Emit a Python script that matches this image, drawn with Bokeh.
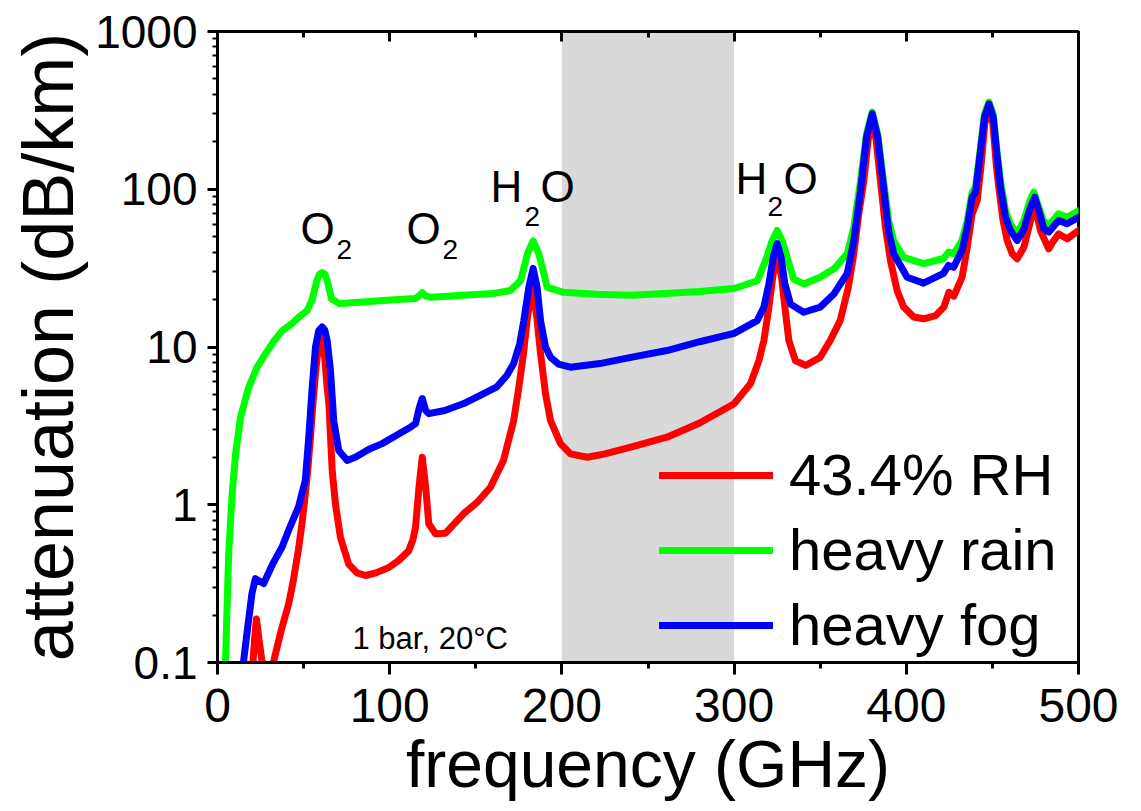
from bokeh.plotting import figure
from bokeh.models import (FixedTicker, LinearAxis, BoxAnnotation, Legend, LegendItem,
                          Range1d, CustomJSTickFormatter)
from bokeh.core.properties import value
from bokeh.embed import file_html
from bokeh.resources import INLINE

# ---------------- data ----------------
rh_f = [20, 21.5, 22.6, 24.5, 26.5, 29, 31.5, 33.7, 37, 41.4, 44, 47, 49, 51, 52.5, 54, 55.5, 57, 58.5,
        59.8, 60.5, 61.3, 62.3, 63.5, 64.7, 66.6, 68.5, 71.4, 76.2, 81, 86, 92, 99.5, 105.3, 111, 113.5,
        115, 117, 118.9, 120.9, 122.7, 126.6, 132.4, 143, 151, 158.5, 166, 172, 175, 177.7, 180, 183,
        185.4, 187.6, 190.5, 193.4, 199.2, 205, 214.7, 225, 240, 261, 280, 300, 309.5, 314.4, 317.3,
        320.2, 322.7, 325, 327.3, 329.5, 331.8, 335.6, 341.5, 350, 355.8, 361.6, 366.4, 369.5, 372.4,
        375.3, 377.8, 380.2, 382.5, 385, 387.9, 390.8, 394.7, 398.5, 404.3, 410.2, 417, 421.8, 424.7,
        427.6, 432.4, 435.4, 438.2, 441.2, 443.5, 445.6, 448, 450.3, 452.2, 453.7, 456.2, 458.6, 461.5,
        464.4, 468.3, 472.2, 475, 477.9, 482.7, 485.6, 488.5, 493.4, 500]
rh_a = [0.08, 0.14, 0.189, 0.13, 0.09, 0.075, 0.09, 0.114, 0.16, 0.237, 0.33, 0.52, 0.75, 1.17, 1.7,
        2.7, 4.5, 7.0, 9.8, 11.8, 12.2, 11.3, 8.5, 5.8, 4.37, 1.65, 1.01, 0.62, 0.42, 0.37, 0.356, 0.37,
        0.40, 0.444, 0.51, 0.6, 0.72, 1.29, 2.0, 1.29, 0.757, 0.655, 0.66, 0.88, 1.04, 1.29, 1.9, 3.42,
        5.56, 9.1, 15.5, 23.9, 15.5, 9.1, 5.05, 3.42, 2.44, 2.1, 2.0, 2.1, 2.32, 2.68, 3.3, 4.37, 5.85,
        8.2, 11, 17.9, 29.1, 37, 29.1, 17.9, 11, 8.2, 7.64, 8.6, 11, 14.7, 24.1, 39, 69.8, 113, 204, 286,
        204, 113, 57.4, 35.3, 22.7, 17.9, 15.5, 15.1, 15.8, 17.9, 22.2, 21, 27.7, 43, 69.8, 85, 145, 260,
        331, 260, 145, 103, 63.4, 47.3, 39, 36.2, 43, 63.4, 77, 54.7, 41.9, 47.3, 52.1, 48.5, 54.8]

rain_f = [4.4, 5.6, 6.5, 8.5, 10.5, 13.4, 18, 23, 28, 33, 37.7, 43, 47, 52, 54.8, 57.7, 59.3, 60.8,
          62.3, 63.7, 66.2, 70.4, 76, 90, 105, 115, 118, 119, 121, 124, 140, 160, 170, 176, 180, 183.3,
          186.6, 191.5, 201, 220, 240, 260, 280, 300, 313.5, 319, 322, 325, 328, 330.8, 334.6, 340.4,
          350, 358, 365.7, 369.5, 373.4, 376.9, 380.2, 383.4, 386.8, 389.7, 392.7, 398.5, 410, 421.6,
          424.5, 427.5, 432.3, 435.4, 438.2, 440.2, 443.1, 445.4, 448, 450.5, 452.4, 454.7, 457.6,
          460.5, 464.4, 468.3, 471.8, 474, 477, 479.5, 482.8, 488.4, 493.4, 500]
rain_a = [0.08, 0.235, 0.49, 1.17, 2.1, 3.59, 5.5, 7.45, 9.1, 11, 12.7, 14, 15.4, 17, 19.7, 26.4, 29,
          29.6, 29, 26.4, 20.2, 18.9, 19, 19.5, 20, 20.3, 21.5, 22.1, 21, 20.7, 21.2, 21.8, 22.8, 26.3,
          39, 47, 39, 23.9, 22.2, 21.6, 21.3, 21.8, 22.5, 23.5, 26.3, 37, 47, 54.8, 47, 37, 26.9, 25.1,
          27.7, 31.3, 39, 57.4, 113, 224, 308, 224, 113, 63.4, 47, 37, 33.8, 36.4, 39.9, 39, 47.3, 63,
          95.7, 103, 185, 300, 357, 300, 185, 113, 73.3, 60, 52.4, 63.4, 84.9, 95.7, 77, 63.4, 59, 70,
          66.5, 73]

fog_f = [14, 17, 20, 22, 24, 26.8, 32, 37.5, 42, 47, 51, 53, 55, 56.9, 58.8, 60.8, 62.3, 63.7, 65.6,
         67.5, 70.4, 75.3, 80, 88, 95.6, 105, 112, 115, 117.3, 118.9, 120.9, 122.7, 132, 143, 152, 162,
         168, 172, 175.5, 177.9, 180.8, 183.3, 185.6, 187.6, 190.5, 193.4, 198, 205, 222, 240, 261, 280,
         300, 313.4, 317.3, 320.2, 322.7, 325, 327.3, 329.5, 332.8, 340.4, 350, 358, 365.7, 369.5,
         373.4, 376.9, 380.2, 383.4, 386.8, 389.7, 392.7, 400.5, 410, 421.6, 424.5, 427.5, 432.3,
         435.4, 438.2, 440.2, 443.1, 445.4, 448, 450.5, 452.4, 454.7, 457.6, 460.5, 464.4, 468.3,
         471.8, 474.6, 477.5, 479.9, 482.8, 488.4, 493.4, 500]
fog_a = [0.08, 0.15, 0.274, 0.34, 0.33, 0.317, 0.42, 0.54, 0.72, 0.966, 1.43, 2.68, 5.56, 10, 12.7,
         13.4, 12.8, 11, 7.1, 3.42, 2.21, 1.91, 2.0, 2.25, 2.44, 2.8, 3.1, 3.27, 4.16, 4.71, 3.96, 3.78,
         3.96, 4.38, 4.9, 5.56, 6.6, 7.85, 10.5, 14.7, 23.9, 31.5, 23.9, 14.7, 10, 8.6, 7.8, 7.45, 7.85,
         8.6, 9.5, 10.8, 12.2, 14.7, 17.9, 25.1, 37, 45.3, 37, 25.1, 18.7, 16.6, 17.9, 21.7, 29.3, 47.3,
         98, 214, 301, 214, 103, 54.7, 39, 27.7, 25.4, 29.3, 32.9, 32, 40.9, 57.5, 89, 95.7, 176, 286,
         347, 286, 176, 103, 66.5, 54.8, 47.3, 56.2, 75.3, 89, 69.8, 56.2, 53.5, 63.4, 60.4, 66.5]

series_names = ["43.4% RH", "heavy rain", "heavy fog"]
series_colors = ["#ff0000", "#00ff00", "#0000ff"]

band_start, band_end = 200, 300

x_ticks = [0, 100, 200, 300, 400, 500]
x_minor = [50, 150, 250, 350, 450]
y_ticks = [0.1, 1, 10, 100, 1000]
y_tick_labels = ["0.1", "1", "10", "100", "1000"]

# annotation labels (big part + subscript)
main_txt = ["O", "O", "H", "O", "H", "O"]
main_x = [48.2, 109.8, 158.5, 187.6, 300.8, 328.7]
main_y = [56.4, 56.4, 104, 104, 117, 117]
sub_txt = ["2", "2", "2", "2"]
sub_x = [69.1, 130.7, 178.3, 319.4]
sub_y = [41.5, 41.5, 67.1, 77.8]
cond_txt = ["1 bar, 20°C"]
cond_x = [78.4]
cond_y = [0.142]

FONT = "Liberation Sans"

p = figure(frame_width=861, frame_height=631, y_axis_type="log",
           x_range=Range1d(0, 500), y_range=Range1d(0.1, 1000),
           output_backend="svg", toolbar_location=None,
           min_border_left=217, min_border_right=63, min_border_top=31, min_border_bottom=149)
p.xgrid.visible = False
p.ygrid.visible = False
p.outline_line_color = "black"
p.outline_line_width = 3
p.background_fill_color = "white"
p.border_fill_color = "white"

band = BoxAnnotation(left=band_start, right=band_end, fill_color="#d9d9d9", fill_alpha=1.0,
                     line_color=None, level="underlay")
p.add_layout(band)

rend = []
for f, a, c in [(rh_f, rh_a, series_colors[0]), (rain_f, rain_a, series_colors[1]),
                (fog_f, fog_a, series_colors[2])]:
    r = p.line(f, a, line_color=c, line_width=7, line_join="round", line_cap="round")
    rend.append(r)

# axes
xa = p.xaxis[0]
xa.ticker = FixedTicker(ticks=x_ticks, minor_ticks=x_minor)
xa.axis_label = "frequency (GHz)"
xa.axis_label_text_font = FONT
xa.axis_label_text_font_style = "normal"
xa.axis_label_text_font_size = "66px"
xa.axis_label_text_color = "black"
xa.axis_label_standoff = 2
xa.major_label_text_font = FONT
xa.major_label_text_font_size = "48px"
xa.major_label_text_color = "black"
xa.major_label_standoff = 14
xa.major_tick_out = 12
xa.major_tick_in = 0
xa.minor_tick_out = 6
xa.minor_tick_in = 0
xa.axis_line_width = 3
xa.major_tick_line_width = 3
xa.minor_tick_line_width = 3

minor_y = []
for d in [0.1, 1, 10, 100]:
    for k in range(2, 10):
        minor_y.append(d * k)

ya = p.yaxis[0]
ya.ticker = FixedTicker(ticks=y_ticks, minor_ticks=minor_y)
ya.major_label_overrides = {t: l for t, l in zip(y_ticks, y_tick_labels)}
ya.axis_label = "attenuation (dB/km)"
ya.axis_label_text_font = FONT
ya.axis_label_text_font_style = "normal"
ya.axis_label_text_font_size = "72px"
ya.axis_label_text_color = "black"
ya.axis_label_standoff = 4
ya.major_label_text_font = FONT
ya.major_label_text_font_size = "46px"
ya.major_label_text_color = "black"
ya.major_label_standoff = 10
ya.major_tick_out = 10
ya.major_tick_in = 0
ya.minor_tick_out = 5
ya.minor_tick_in = 0
ya.axis_line_width = 3
ya.major_tick_line_width = 3
ya.minor_tick_line_width = 2

top = LinearAxis(ticker=FixedTicker(ticks=x_ticks, minor_ticks=x_minor),
                 formatter=CustomJSTickFormatter(code="return ''"))
top.major_label_text_font_size = "10px"
top.major_label_standoff = 0
top.major_tick_in = 10
top.major_tick_out = 0
top.minor_tick_in = 6
top.minor_tick_out = 0
top.axis_line_width = 3
top.major_tick_line_width = 3
top.minor_tick_line_width = 3
p.add_layout(top, "above")

# annotations
p.text(x=main_x, y=main_y, text=main_txt, text_font=value(FONT), text_font_size="44px",
       text_baseline="alphabetic", text_align="left", text_color="black")
p.text(x=sub_x, y=sub_y, text=sub_txt, text_font=value(FONT), text_font_size="28px",
       text_baseline="alphabetic", text_align="left", text_color="black")
p.text(x=cond_x, y=cond_y, text=cond_txt, text_font=value(FONT), text_font_size="31px",
       text_baseline="alphabetic", text_align="left", text_color="black")

legend = Legend(items=[LegendItem(label=n, renderers=[r]) for n, r in zip(series_names, rend)],
                location=(442, 4))
legend.label_text_font = FONT
legend.label_text_font_size = "58px"
legend.label_text_color = "black"
legend.glyph_width = 114
legend.glyph_height = 20
legend.label_standoff = 16
legend.spacing = 8
legend.padding = 0
legend.margin = 0
legend.border_line_color = None
legend.background_fill_alpha = 0
p.add_layout(legend)

open("out.html", "w").write(file_html(p, INLINE))
